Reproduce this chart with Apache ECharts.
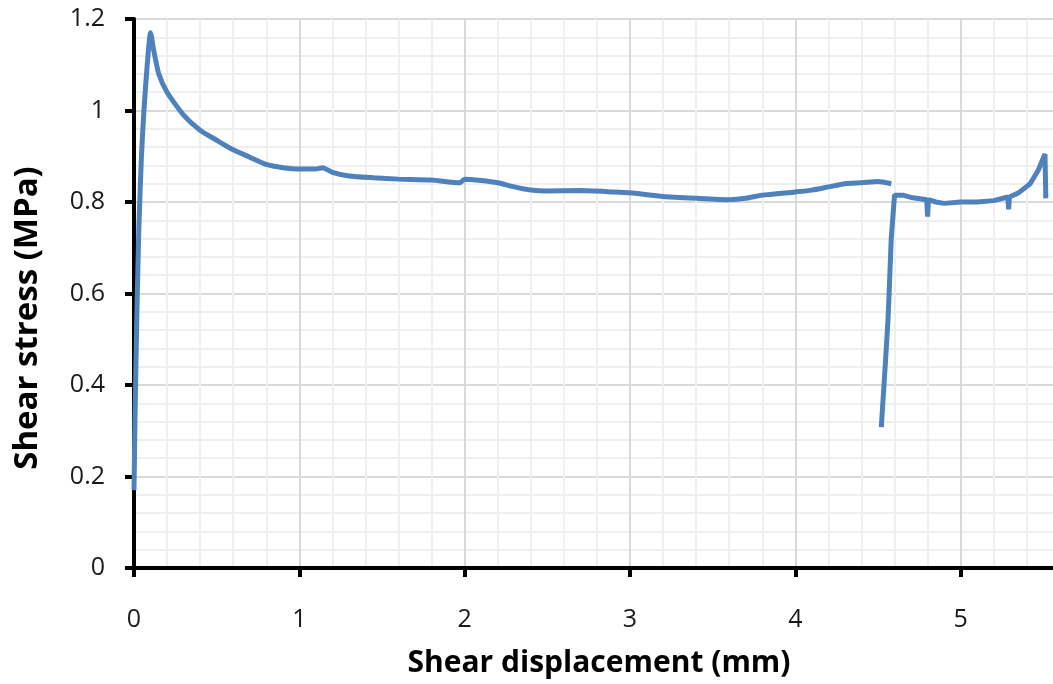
<!DOCTYPE html>
<html>
<head>
<meta charset="utf-8">
<script src="https://cdn.jsdelivr.net/npm/echarts@6/dist/echarts.min.js"></script>
<style>
  html, body { margin: 0; padding: 0; background: #fff; }
  #chart { width: 1053px; height: 684px; }
</style>
</head>
<body>
<div id="chart"></div>
<script>
// shear displacement (mm) / shear stress (MPa)
const firstRunX = [0, 0.005, 0.012, 0.02, 0.03, 0.045, 0.06, 0.08, 0.1, 0.12, 0.15, 0.2, 0.3, 0.4, 0.5, 0.6, 0.7, 0.8, 0.9, 1.0, 1.1, 1.14, 1.2, 1.3, 1.45, 1.6, 1.8, 1.97, 2.0, 2.1, 2.2, 2.3, 2.4, 2.5, 2.7, 2.9, 3.0, 3.2, 3.4, 3.6, 3.7, 3.8, 4.0, 4.1, 4.2, 4.3, 4.4, 4.5, 4.58];
const firstRunY = [0.17, 0.3, 0.45, 0.6, 0.75, 0.9, 1.0, 1.1, 1.17, 1.13, 1.08, 1.04, 0.99, 0.957, 0.935, 0.914, 0.898, 0.882, 0.875, 0.872, 0.872, 0.875, 0.865, 0.857, 0.853, 0.85, 0.848, 0.842, 0.85, 0.847, 0.842, 0.833, 0.826, 0.824, 0.825, 0.822, 0.82, 0.812, 0.808, 0.805, 0.808, 0.815, 0.822, 0.826, 0.833, 0.84, 0.842, 0.845, 0.84];
const secondRunX = [4.52, 4.545, 4.56, 4.565, 4.58, 4.6, 4.65, 4.7, 4.795, 4.8, 4.805, 4.85, 4.9, 5.0, 5.1, 5.2, 5.285, 5.29, 5.295, 5.35, 5.42, 5.47, 5.51, 5.515];
const secondRunY = [0.308, 0.45, 0.54, 0.58, 0.72, 0.815, 0.815, 0.81, 0.805, 0.768, 0.805, 0.8, 0.797, 0.8, 0.8, 0.803, 0.811, 0.784, 0.811, 0.82, 0.84, 0.87, 0.905, 0.808];

const xTicks = [0, 1, 2, 3, 4, 5];
const yTicks = [0, 0.2, 0.4, 0.6, 0.8, 1, 1.2];

const zip = (xs, ys) => xs.map((x, i) => [x, ys[i]]);

const chart = echarts.init(document.getElementById("chart"));

const lineStyle = { color: "#4f81bd", width: 5 };

chart.setOption({
  animation: false,
  backgroundColor: "#fff",
  // grid runs past the right edge, the picture is cropped there
  grid: { left: 134, top: 19, bottom: 116, width: 992, outerBoundsMode: "none", containLabel: false },
  xAxis: {
    type: "value",
    min: 0,
    max: 6,
    interval: 1,
    axisLine: { lineStyle: { color: "#000", width: 4 } },
    axisTick: { show: true, length: 9, lineStyle: { color: "#000", width: 4 } },
    axisLabel: {
      margin: 39,
      fontFamily: "Open Sans",
      fontSize: 25,
      color: "#1a1a1a",
      formatter: (v) => (xTicks.includes(v) ? String(v) : "")
    },
    splitLine: { show: true, lineStyle: { color: "#d9d9d9", width: 2 } },
    minorTick: { show: false, splitNumber: 5 },
    minorSplitLine: { show: true, lineStyle: { color: "#efefef", width: 2 } }
  },
  yAxis: {
    type: "value",
    min: 0,
    max: 1.2,
    interval: 0.2,
    axisLine: { show: true, lineStyle: { color: "#000", width: 4 } },
    axisTick: { show: true, length: 9, lineStyle: { color: "#000", width: 4 } },
    axisLabel: {
      margin: 29,
      fontFamily: "Open Sans",
      fontSize: 25,
      color: "#1a1a1a",
      formatter: (v) => {
        const t = yTicks.find((k) => Math.abs(k - v) < 1e-9);
        return t === undefined ? "" : String(t);
      }
    },
    splitLine: { show: true, lineStyle: { color: "#d9d9d9", width: 2 } },
    minorTick: { show: false, splitNumber: 5 },
    minorSplitLine: { show: true, lineStyle: { color: "#efefef", width: 2 } }
  },
  graphic: [
    {
      type: "text",
      x: 599,
      y: 663,
      style: {
        text: "Shear displacement (mm)",
        fontFamily: "Open Sans",
        fontWeight: "bold",
        fontSize: 30,
        fill: "#000",
        textAlign: "center",
        textVerticalAlign: "middle"
      }
    },
    {
      type: "text",
      x: 28,
      y: 318,
      rotation: Math.PI / 2,
      style: {
        text: "Shear stress (MPa)",
        fontFamily: "Open Sans",
        fontWeight: "bold",
        fontSize: 33,
        fill: "#000",
        textAlign: "center",
        textVerticalAlign: "middle"
      }
    }
  ],
  series: [
    {
      type: "line",
      data: zip(firstRunX, firstRunY),
      showSymbol: false,
      smooth: 0.2,
      lineStyle: lineStyle,
      clip: true
    },
    {
      type: "line",
      data: zip(secondRunX, secondRunY),
      showSymbol: false,
      lineStyle: lineStyle,
      clip: true
    }
  ]
});
</script>
</body>
</html>
